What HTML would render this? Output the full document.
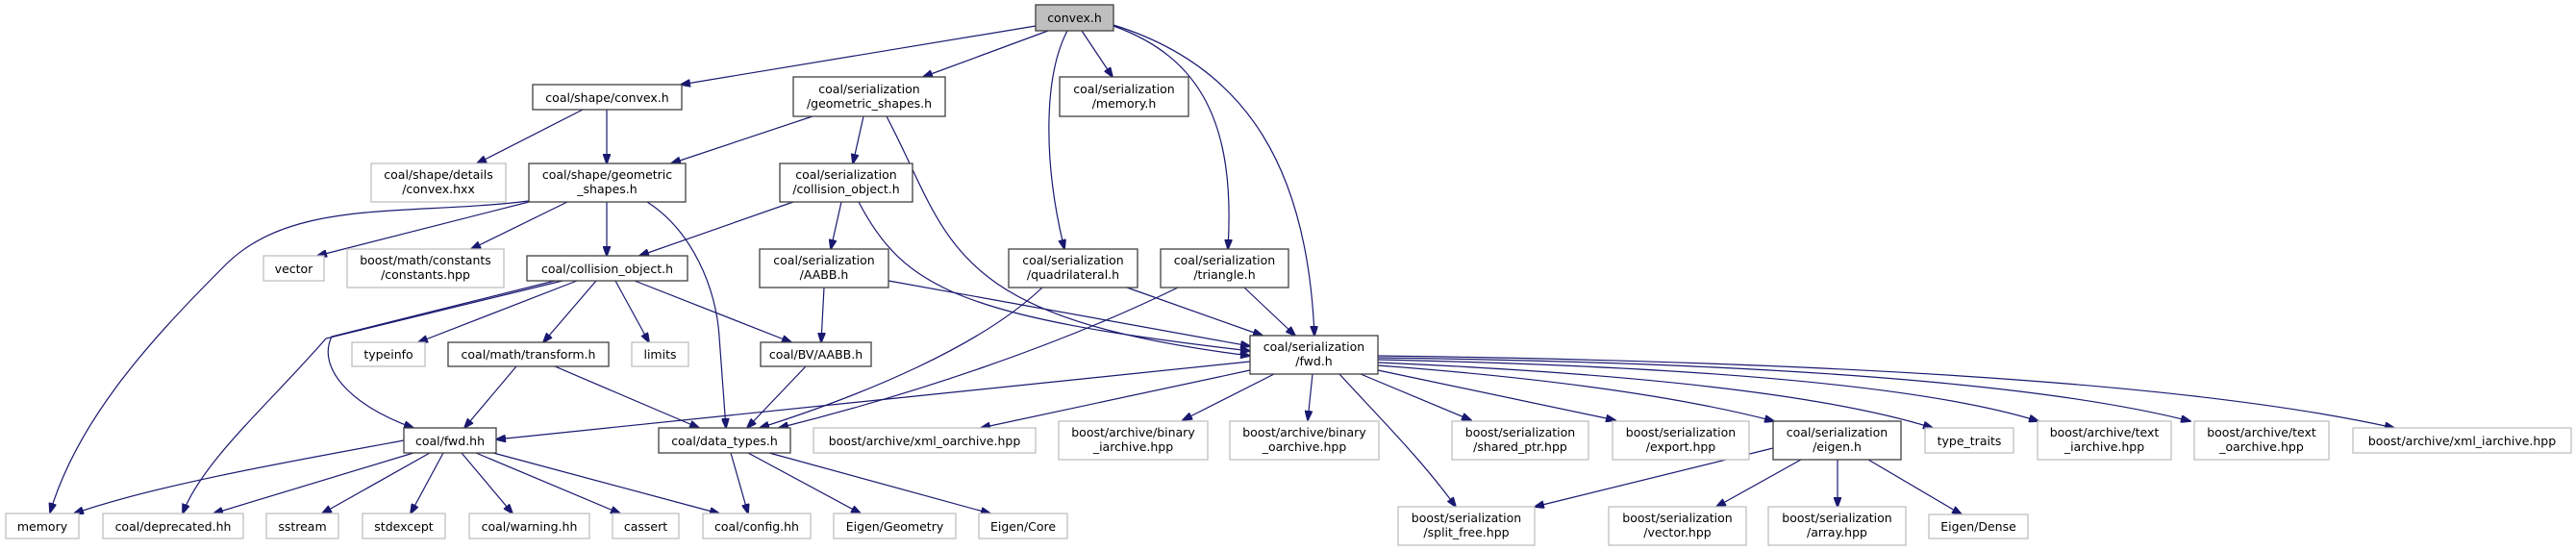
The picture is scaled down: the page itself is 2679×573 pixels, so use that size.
<!DOCTYPE html>
<html><head><meta charset="utf-8"><style>
html,body{margin:0;padding:0;background:#fff;}
svg{display:block;}
text{font-family:"DejaVu Sans","Liberation Sans",sans-serif;font-size:12.5px;fill:#000;text-anchor:middle;}
.e{fill:none;stroke:#191970;stroke-width:1.2;marker-end:url(#a);}
.d{fill:#fff;stroke:#404040;stroke-width:1.3;}
.g{fill:#fff;stroke:#bfbfbf;stroke-width:1.3;}
</style></head><body>
<svg width="2679" height="573" viewBox="0 0 2679 573" xmlns="http://www.w3.org/2000/svg">
<defs><marker id="a" markerWidth="11" markerHeight="8" refX="10" refY="4" orient="auto" markerUnits="userSpaceOnUse"><path d="M0,0 L11,4 L0,8z" fill="#191970" stroke="#191970"/></marker></defs>

<!-- edges -->
<path class="e" d="M1077,27 L708,88"/>
<path class="e" d="M1090,32 L960,80"/>
<path class="e" d="M1110,32 C1085,80 1085,170 1107,259"/>
<path class="e" d="M1125,32 L1157,80"/>
<path class="e" d="M1158,27 C1250,60 1285,130 1277,259"/>
<path class="e" d="M1158,26 C1300,70 1360,180 1367,349"/>

<path class="e" d="M608,113 L496,170"/>
<path class="e" d="M631,113 L631,170"/>

<path class="e" d="M845,121 L698,170"/>
<path class="e" d="M898,121 L887,170"/>
<path class="e" d="M922,121 C990,250 980,330 1300,370"/>

<path class="e" d="M550,209 C420,225 300,205 230,280 C150,360 80,440 52,533"/>
<path class="e" d="M550,210 L330,266"/>
<path class="e" d="M590,210 L490,259"/>
<path class="e" d="M631,210 L631,266"/>
<path class="e" d="M673,210 C720,240 745,300 748,350 L755,445"/>

<path class="e" d="M825,210 L665,266"/>
<path class="e" d="M875,210 L864,259"/>
<path class="e" d="M893,210 C940,300 1000,330 1300,365"/>

<path class="e" d="M577,292 L345,350 C330,380 360,420 430,445"/>
<path class="e" d="M585,292 L339,352 C280,420 210,480 190,534"/>
<path class="e" d="M600,292 L435,356"/>
<path class="e" d="M620,292 L565,356"/>
<path class="e" d="M640,292 L675,356"/>
<path class="e" d="M660,292 L823,356"/>

<path class="e" d="M857,299 L854,356"/>
<path class="e" d="M924,292 L1300,360"/>
<path class="e" d="M838,381 L777,445"/>
<path class="e" d="M537,381 L483,445"/>
<path class="e" d="M577,381 L727,445"/>

<path class="e" d="M1084,299 C1020,360 900,410 790,445"/>
<path class="e" d="M1172,299 L1313,349"/>
<path class="e" d="M1225,299 C1100,360 950,410 810,445"/>
<path class="e" d="M1294,299 L1347,349"/>

<path class="e" d="M1300,376 L516,457"/>
<path class="e" d="M1300,385 L1020,445"/>
<path class="e" d="M1325,389 L1230,437"/>
<path class="e" d="M1365,389 L1360,437"/>
<path class="e" d="M1393,389 C1440,440 1480,480 1514,527"/>
<path class="e" d="M1415,389 L1530,437"/>
<path class="e" d="M1433,385 L1680,437"/>
<path class="e" d="M1433,380 Q1700,400 1845,438"/>
<path class="e" d="M1433,377 Q1850,395 2010,445"/>
<path class="e" d="M1433,374 Q1950,385 2120,438"/>
<path class="e" d="M1433,372 Q2050,380 2278,438"/>
<path class="e" d="M1433,370 Q2200,380 2490,445"/>

<path class="e" d="M760,471 L778,534"/>
<path class="e" d="M778,471 L895,534"/>
<path class="e" d="M800,471 L1030,534"/>

<path class="e" d="M420,458 C300,480 160,505 77,534"/>
<path class="e" d="M430,471 L222,534"/>
<path class="e" d="M447,471 L335,534"/>
<path class="e" d="M461,471 L427,534"/>
<path class="e" d="M480,471 L533,534"/>
<path class="e" d="M495,471 L645,534"/>
<path class="e" d="M513,471 L748,534"/>

<path class="e" d="M1844,466 L1596,527"/>
<path class="e" d="M1873,478 L1785,527"/>
<path class="e" d="M1911,478 L1911,527"/>
<path class="e" d="M1943,478 L2040,535"/>

<!-- nodes -->
<rect x="1077" y="5" width="81" height="27" fill="#bfbfbf" stroke="#404040" stroke-width="1.3"/><text x="1117.5" y="23">convex.h</text>

<rect class="d" x="554" y="88" width="155" height="26"/><text x="631.5" y="106">coal/shape/convex.h</text>
<rect class="d" x="825" y="80" width="158" height="41"/><text x="904" y="97">coal/serialization</text><text x="904" y="112">/geometric_shapes.h</text>
<rect class="d" x="1102" y="80" width="134" height="41"/><text x="1169" y="97">coal/serialization</text><text x="1169" y="112">/memory.h</text>

<rect class="g" x="386" y="170" width="140" height="40"/><text x="456" y="186">coal/shape/details</text><text x="456" y="201">/convex.hxx</text>
<rect class="d" x="550" y="170" width="163" height="40"/><text x="631.5" y="186">coal/shape/geometric</text><text x="631.5" y="201">_shapes.h</text>
<rect class="d" x="811" y="170" width="138" height="40"/><text x="880" y="186">coal/serialization</text><text x="880" y="201">/collision_object.h</text>

<rect class="g" x="274" y="266" width="63" height="26"/><text x="305.5" y="284">vector</text>
<rect class="g" x="361" y="259" width="163" height="40"/><text x="442.5" y="275">boost/math/constants</text><text x="442.5" y="290">/constants.hpp</text>
<rect class="d" x="548" y="266" width="167" height="26"/><text x="631.5" y="284">coal/collision_object.h</text>
<rect class="d" x="790" y="259" width="134" height="40"/><text x="857" y="275">coal/serialization</text><text x="857" y="290">/AABB.h</text>
<rect class="d" x="1049" y="259" width="134" height="40"/><text x="1116" y="275">coal/serialization</text><text x="1116" y="290">/quadrilateral.h</text>
<rect class="d" x="1207" y="259" width="133" height="40"/><text x="1273.5" y="275">coal/serialization</text><text x="1273.5" y="290">/triangle.h</text>

<rect class="g" x="366" y="356" width="76" height="25"/><text x="404" y="373">typeinfo</text>
<rect class="d" x="466" y="356" width="167" height="25"/><text x="549.5" y="373">coal/math/transform.h</text>
<rect class="g" x="657" y="356" width="59" height="25"/><text x="686.5" y="373">limits</text>
<rect class="d" x="791" y="356" width="115" height="25"/><text x="848.5" y="373">coal/BV/AABB.h</text>
<rect class="d" x="1300" y="349" width="133" height="40"/><text x="1366.5" y="365">coal/serialization</text><text x="1366.5" y="380">/fwd.h</text>

<rect class="d" x="420" y="445" width="96" height="26"/><text x="468" y="463">coal/fwd.hh</text>
<rect class="d" x="685" y="445" width="137" height="26"/><text x="753.5" y="463">coal/data_types.h</text>
<rect class="g" x="846" y="445" width="231" height="26"/><text x="961.5" y="463">boost/archive/xml_oarchive.hpp</text>
<rect class="g" x="1101" y="438" width="155" height="40"/><text x="1178.5" y="454">boost/archive/binary</text><text x="1178.5" y="469">_iarchive.hpp</text>
<rect class="g" x="1279" y="438" width="155" height="40"/><text x="1356.5" y="454">boost/archive/binary</text><text x="1356.5" y="469">_oarchive.hpp</text>
<rect class="g" x="1510" y="438" width="142" height="40"/><text x="1581" y="454">boost/serialization</text><text x="1581" y="469">/shared_ptr.hpp</text>
<rect class="g" x="1677" y="438" width="142" height="40"/><text x="1748" y="454">boost/serialization</text><text x="1748" y="469">/export.hpp</text>
<rect class="d" x="1844" y="438" width="133" height="40"/><text x="1910.5" y="454">coal/serialization</text><text x="1910.5" y="469">/eigen.h</text>
<rect class="g" x="2002" y="445" width="92" height="26"/><text x="2048" y="463">type_traits</text>
<rect class="g" x="2119" y="438" width="139" height="40"/><text x="2188.5" y="454">boost/archive/text</text><text x="2188.5" y="469">_iarchive.hpp</text>
<rect class="g" x="2282" y="438" width="140" height="40"/><text x="2352" y="454">boost/archive/text</text><text x="2352" y="469">_oarchive.hpp</text>
<rect class="g" x="2447" y="445" width="227" height="26"/><text x="2560.5" y="463">boost/archive/xml_iarchive.hpp</text>

<rect class="g" x="6" y="534" width="76" height="26"/><text x="44" y="552">memory</text>
<rect class="g" x="107" y="534" width="146" height="26"/><text x="180" y="552">coal/deprecated.hh</text>
<rect class="g" x="277" y="534" width="75" height="26"/><text x="314.5" y="552">sstream</text>
<rect class="g" x="377" y="534" width="86" height="26"/><text x="420" y="552">stdexcept</text>
<rect class="g" x="488" y="534" width="125" height="26"/><text x="550.5" y="552">coal/warning.hh</text>
<rect class="g" x="637" y="534" width="69" height="26"/><text x="671.5" y="552">cassert</text>
<rect class="g" x="731" y="534" width="112" height="26"/><text x="787" y="552">coal/config.hh</text>
<rect class="g" x="867" y="534" width="127" height="26"/><text x="930.5" y="552">Eigen/Geometry</text>
<rect class="g" x="1018" y="534" width="92" height="26"/><text x="1064" y="552">Eigen/Core</text>
<rect class="g" x="1454" y="527" width="142" height="40"/><text x="1525" y="543">boost/serialization</text><text x="1525" y="558">/split_free.hpp</text>
<rect class="g" x="1673" y="527" width="143" height="40"/><text x="1744.5" y="543">boost/serialization</text><text x="1744.5" y="558">/vector.hpp</text>
<rect class="g" x="1839" y="527" width="143" height="40"/><text x="1910.5" y="543">boost/serialization</text><text x="1910.5" y="558">/array.hpp</text>
<rect class="g" x="2006" y="535" width="103" height="25"/><text x="2057.5" y="552">Eigen/Dense</text>
</svg>
</body></html>
